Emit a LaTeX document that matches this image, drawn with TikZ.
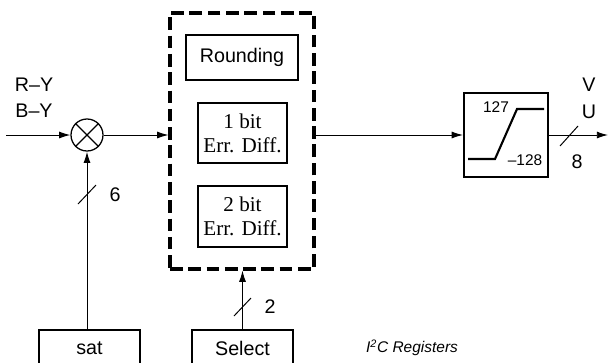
\documentclass[tikz,border=0pt]{standalone}
\usepackage{fontspec}
\setmainfont{Liberation Serif}
\setsansfont{Liberation Sans}
\usetikzlibrary{arrows.meta}
\begin{document}
\begin{tikzpicture}[x=0.025cm,y=-0.025cm,
    lbl/.style={font=\sffamily\fontsize{14}{16}\selectfont,inner sep=0pt},
    smalllbl/.style={font=\sffamily\fontsize{11}{13}\selectfont,inner sep=0pt},
    blk/.style={draw,line width=1.2pt,inner sep=0pt},
    sig/.style={line width=0.7pt,-{Latex[length=8pt,width=5pt]}},
    busmark/.style={line width=0.7pt}]
                                    \def\px{0.025cm}
                                    \useasboundingbox (0,0) rectangle (609,362);
                                    \clip (0,0) rectangle (609,362);
% inputs and multiplier
                                    \coordinate (in) at (6,135);
                                    \node[draw,circle,line width=0.9pt,minimum size=32*\px,inner sep=0pt] (mul) at (87,135) {};
                                    \draw[line width=0.9pt] (mul.north west) -- (mul.south east) (mul.north east) -- (mul.south west);
                                    \node[lbl] (ry) at (34,85) {R--Y};
                                    \node[lbl] (by) at (34,111) {B--Y};
                                    \draw[sig] (in) -- (mul);
% dither block
                                    \node[draw,line width=2.2pt,dash pattern=on 9pt off 4pt,minimum width=144*\px,minimum height=256*\px] (dbox) at (242,141) {};
                                    \node[blk,lbl,minimum width=112*\px,minimum height=45*\px] (round) at (242,57.5) {Rounding};
                                    \node[blk,align=center,font=\fontsize{15}{17}\selectfont,minimum width=89*\px,minimum height=60*\px] (bitone) at (242.5,133) {1 bit\\Err. Diff.};
                                    \node[blk,align=center,font=\fontsize{15}{17}\selectfont,minimum width=89*\px,minimum height=61*\px] (bittwo) at (242.5,216.5) {2 bit\\Err. Diff.};
                                    \draw[sig] (mul) -- (mul -| dbox.west);
% limiter
                                    \node[blk,line width=1.5pt,minimum width=84*\px,minimum height=84*\px] (limit) at (506,135) {};
                                    \draw[line width=1.5pt] (468,159) -- (495,159) -- (517,109) -- (544,109);
                                    \node[smalllbl] (hi) at (496,107) {127};
                                    \node[smalllbl] (lo) at (525,160) {--128};
                                    \draw[sig] (limit.west -| dbox.east) -- (limit.west);
                                    \coordinate (out) at (608,135);
                                    \draw[sig] (limit.east) -- (out);
                                    \draw[busmark] (560,146) -- (578,126);
                                    \node[lbl] (v) at (589,85) {V};
                                    \node[lbl] (u) at (589,112) {U};
                                    \node[lbl] (eight) at (577,162) {8};
% registers
                                    \node[blk,lbl,minimum width=101*\px,minimum height=36*\px] (sat) at (89.5,348) {sat};
                                    \node[blk,lbl,minimum width=101*\px,minimum height=36*\px] (sel) at (242.5,348) {Select};
                                    \draw[sig] (sat.north -| mul) -- (mul);
                                    \draw[busmark] (78,204) -- (96,185);
                                    \node[lbl] (six) at (115,195) {6};
                                    \draw[sig] (sel.north) -- (sel.north |- dbox.south);
                                    \draw[busmark] (234,316) -- (251,298);
                                    \node[lbl] (two) at (270,307) {2};
                                    \node[smalllbl,font=\sffamily\itshape\fontsize{11}{13}\selectfont] (regs) at (412,348) {I\textsuperscript{2}C Registers};
\end{tikzpicture}
\end{document}
